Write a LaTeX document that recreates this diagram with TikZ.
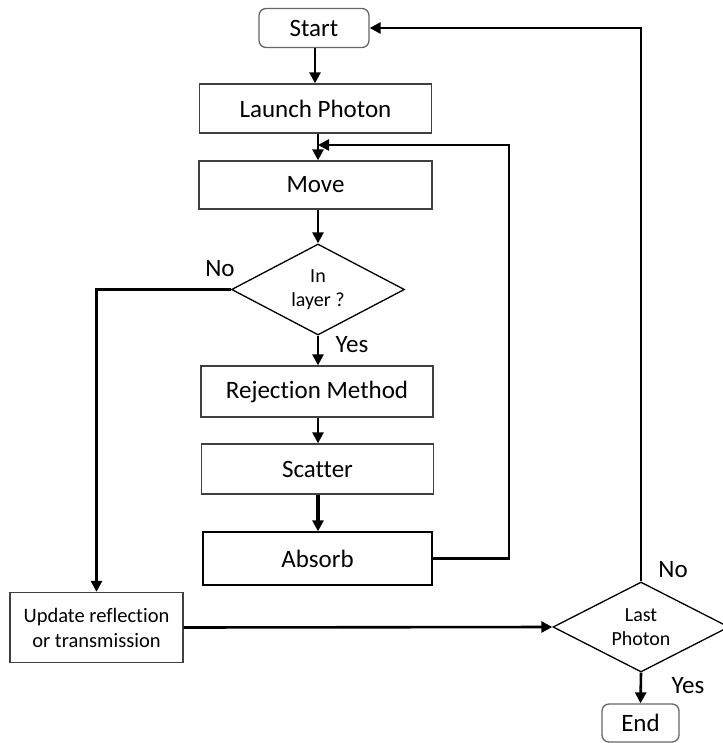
\documentclass[tikz,border=0pt]{standalone}
\usepackage{fontspec}
\setmainfont[Ligatures={NoCommon}]{Carlito}
\usetikzlibrary{shapes.geometric,arrows.meta}
\begin{document}
\begin{tikzpicture}[x=1pt,y=-1pt,
 box/.style={draw=black!75,line width=1.3pt,minimum width=232pt,minimum height=49pt,inner sep=0pt,font=\fontsize{25}{30}\selectfont},
 term/.style={draw=black!60,line width=1.3pt,rounded corners=7pt,inner sep=0pt,font=\fontsize{25}{30}\selectfont},
 dec/.style={diamond,draw=black,line width=1.3pt,inner sep=0pt,aspect=1.9,align=center,font=\fontsize{20}{24}\selectfont},
 conn/.style={line width=2.6pt,-{Triangle[length=11pt,width=11pt]}},
 lab/.style={font=\fontsize{25}{30}\selectfont,inner sep=0pt}]
\useasboundingbox (0,0) rectangle (722,743);
\node[term,minimum width=110pt,minimum height=39pt] (start) at (314,28) {Start};
\node[box] (launch) at (315.5,108.5) {Launch Photon};
\node[box,minimum width=233pt,minimum height=48pt] (move) at (315.5,185) {Move};
\node[dec,minimum width=173pt,minimum height=91pt] (inl) at (318,289.5) {In\\layer ?};
\node[box,minimum width=232pt,minimum height=51pt] (rej) at (317,391.5) {Rejection Method};
\node[box,minimum height=50pt] (scat) at (317.5,469) {Scatter};
\node[box,draw=black,minimum width=229pt,minimum height=53pt] (abs) at (317.5,558.5) {Absorb};
\node[box,minimum width=173pt,minimum height=70pt,align=center,font=\fontsize{20.5}{25}\selectfont] (upd) at (96.5,627.5) {Update reflection\\or transmission};
\node[dec,minimum width=176pt,minimum height=90pt] (last) at (641,627) {Last\\Photon};
\node[term,minimum width=77pt,minimum height=38pt] (end) at (640.5,723) {End};
\coordinate (fbtop) at (509,145);
\coordinate (fbbot) at (509,558.5);
\draw[conn] (start.south -| 315,0) -- (315,0 |- launch.north);
\draw[conn] (inl.north |- launch.south) -- (inl.north |- move.north);
\draw[conn] (inl.north |- move.south) -- (inl.north);
\draw[conn] (inl.south) -- (inl.south |- rej.north);
\draw[conn] (inl.south |- rej.south) -- (inl.south |- scat.north);
\draw[conn,line width=3.6pt] (inl.south |- scat.south) -- (inl.south |- abs.north);
\draw[conn] (abs.east) -- (fbbot) -- (fbtop) -- (fbtop -| inl.north);
\draw[conn] (inl.west) -| (upd.north);
\draw[conn] (upd.east) -- (last.west);
\draw[conn] (last.south) -- (end.north);
\draw[conn] (last.north) |- (start.east);
\node[lab] (no1) at (220,269) {No};
\node[lab] (yes1) at (352,345) {Yes};
\node[lab] (no2) at (673,570) {No};
\node[lab] (yes2) at (688,686) {Yes};
\end{tikzpicture}
\end{document}
